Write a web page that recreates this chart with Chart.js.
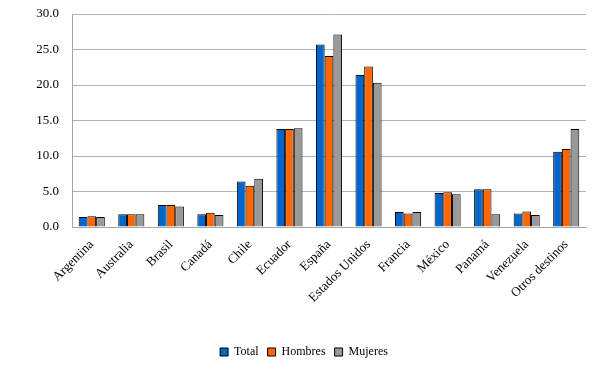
<!DOCTYPE html>
<html>
<head>
<meta charset="utf-8">
<script src="https://cdn.jsdelivr.net/npm/chart.js@4.4.1/dist/chart.umd.min.js"></script>
<style>
  html, body { margin: 0; padding: 0; background: #fff; }
  #wrap { width: 602px; height: 372px; }
</style>
</head>
<body>
<div id="wrap"><canvas id="myChart"></canvas></div>
<script>
const categories = ['Argentina', 'Australia', 'Brasil', 'Canadá', 'Chile', 'Ecuador', 'España',
    'Estados Unidos', 'Francia', 'México', 'Panamá', 'Venezuela', 'Otros destinos'];
const total   = [1.4, 1.8, 3.1, 1.8, 6.4, 13.8, 25.7, 21.4, 2.1, 4.8, 5.3, 1.9, 10.6];
const hombres = [1.5, 1.8, 3.1, 2.0, 5.8, 13.8, 24.1, 22.6, 1.9, 4.9, 5.3, 2.2, 11.0];
const mujeres = [1.4, 1.8, 2.9, 1.7, 6.8, 13.9, 27.1, 20.3, 2.1, 4.6, 1.8, 1.7, 13.8];

Chart.defaults.font.family = "'Liberation Serif', 'Times New Roman', serif";
Chart.defaults.font.size = 12;
Chart.defaults.color = '#000';

function draw() {
    const ctx = document.getElementById('myChart').getContext('2d');
    new Chart(ctx, {
        type: 'bar',
        data: {
            labels: categories,
            datasets: [
                {
                    label: 'Total',
                    data: total,
                    backgroundColor: '#0066cc',
                    borderColor: '#000',
                    borderWidth: 1
                },
                {
                    label: 'Hombres',
                    data: hombres,
                    backgroundColor: '#ff6600',
                    borderColor: '#000',
                    borderWidth: 1
                },
                {
                    label: 'Mujeres',
                    data: mujeres,
                    backgroundColor: '#999999',
                    borderColor: '#000',
                    borderWidth: 1
                }
            ]
        },
        options: {
            responsive: true,
            maintainAspectRatio: false,
            animation: false,
            datasets: {
                bar: {
                    categoryPercentage: 0.66,
                    barPercentage: 1.0
                }
            },
            layout: {
                padding: { top: 14, right: 16, bottom: 4, left: 22 }
            },
            plugins: {
                tooltip: { enabled: false },
                legend: {
                    position: 'bottom',
                    labels: {
                        boxWidth: 8,
                        boxHeight: 8,
                        padding: 9,
                        font: { size: 12 }
                    }
                }
            },
            scales: {
                x: {
                    grid: { display: false },
                    border: { color: '#a6a6a6' },
                    ticks: {
                        autoSkip: false,
                        maxRotation: 45,
                        minRotation: 45,
                        padding: 2,
                        font: { size: 13 }
                    },
                    afterFit: scale => { scale.height = 110; }
                },
                y: {
                    min: 0,
                    max: 30,
                    ticks: {
                        stepSize: 5,
                        padding: 2,
                        font: { size: 13 },
                        callback: v => v.toFixed(1)
                    },
                    // invisible tick marks push the labels away from the axis
                    grid: { color: '#b3b3b3', drawTicks: true, tickLength: 11, tickColor: 'rgba(0,0,0,0)' },
                    border: { color: '#a6a6a6' },
                    afterFit: scale => { scale.width = 50; }
                }
            }
        }
    });
}

document.fonts.load("12px 'Liberation Serif'").then(draw, draw);
</script>
</body>
</html>
